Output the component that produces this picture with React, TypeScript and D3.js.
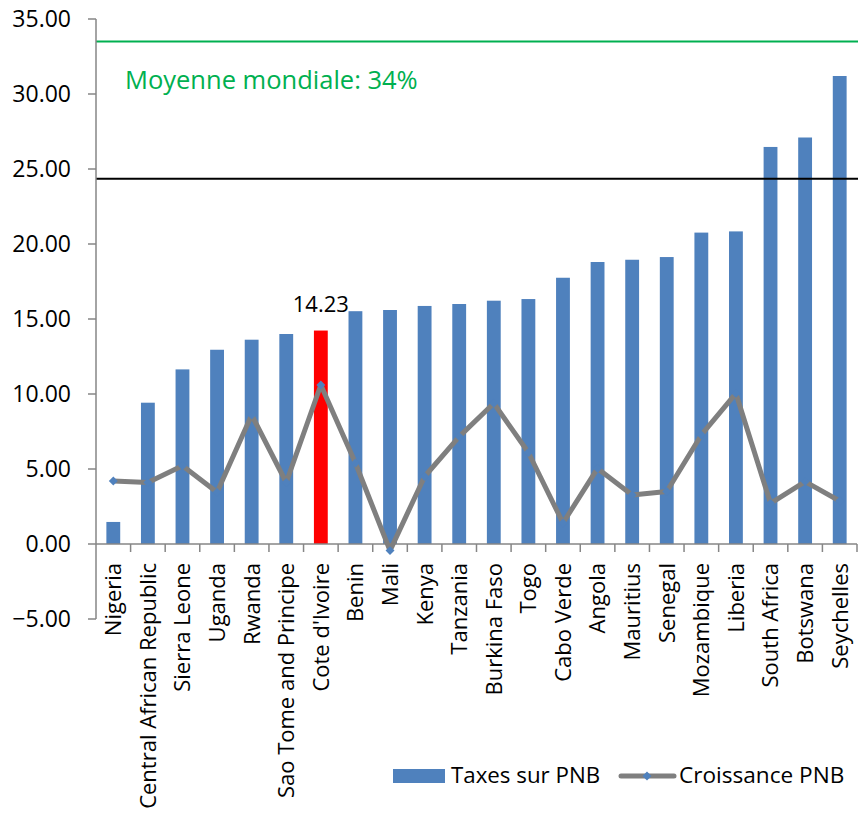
import React from "react";
import * as d3 from "d3";

// Countries ordered by tax revenue share
const countries = [
  "Nigeria",
  "Central African Republic",
  "Sierra Leone",
  "Uganda",
  "Rwanda",
  "Sao Tome and Principe",
  "Cote d'Ivoire",
  "Benin",
  "Mali",
  "Kenya",
  "Tanzania",
  "Burkina Faso",
  "Togo",
  "Cabo Verde",
  "Angola",
  "Mauritius",
  "Senegal",
  "Mozambique",
  "Liberia",
  "South Africa",
  "Botswana",
  "Seychelles",
];

// Taxes sur PNB (%)
const taxes = [
  1.47, 9.42, 11.64, 12.95, 13.62, 14.0, 14.23, 15.52, 15.6, 15.87, 16.0,
  16.22, 16.33, 17.75, 18.8, 18.95, 19.13, 20.76, 20.84, 26.47, 27.1, 31.2,
];

// Croissance PNB (%)
const growth = [
  4.2, 4.1, 5.22, 3.45, 8.6, 4.1, 10.6, 5.4, -0.44, 4.5, 7.16, 9.38, 6.1, 1.4,
  5.04, 3.27, 3.5, 7.27, 10.04, 2.71, 4.16, 2.87,
];

const highlighted = "Cote d'Ivoire";
const worldAverage = 33.5;
const regionalAverage = 24.35;

const yDomain: [number, number] = [-5, 35];

const FONT = "'Open Sans', sans-serif";
const BLUE = "#4f81bd";
const RED = "#ff0000";
const GREY_LINE = "#7f7f7f";
const AXIS = "#868686";
const GREEN = "#00b050";

export default function App() {
  const width = 858;
  const height = 824;
  const left = 96;
  const right = 857;
  const top = 19;
  const bottom = 619;

  const y = d3.scaleLinear().domain(yDomain).range([bottom, top]);
  const xCat = d3.scaleBand<string>().domain(countries).range([left, right]).padding(0);
  const xBar = d3
    .scaleBand<string>()
    .domain(countries)
    .range([left, right])
    .paddingInner(0.6)
    .paddingOuter(0.3);

  const cx = (c: string) => (xCat(c) as number) + xCat.bandwidth() / 2;
  const y0 = y(0);
  const yTicks = y.ticks(8);
  const fmt = d3.format(".2f");

  const linePath = d3
    .line<number>()
    .x((_, i) => cx(countries[i]))
    .y((v) => y(v))(growth) as string;

  const diamond = d3.symbol(d3.symbolSquare, 40)() as string;

  const hiIdx = countries.indexOf(highlighted);

  return (
    <svg
      width={width}
      height={height}
      style={{ position: "absolute", left: 0, top: 0, background: "#fff" }}
      fontFamily={FONT}
    >
      {/* bars */}
      {countries.map((c, i) => {
        const v = taxes[i];
        return (
          <rect
            key={c}
            x={xBar(c)}
            width={xBar.bandwidth()}
            y={Math.min(y(v), y0)}
            height={Math.abs(y0 - y(v))}
            fill={c === highlighted ? RED : BLUE}
          />
        );
      })}

      {/* value label for highlighted country */}
      <text
        x={cx(highlighted)}
        y={y(taxes[hiIdx]) - 19}
        textAnchor="middle"
        fontSize={22}
        fill="#000"
      >
        {fmt(taxes[hiIdx])}
      </text>

      {/* reference lines */}
      <line x1={left} x2={width} y1={y(worldAverage)} y2={y(worldAverage)} stroke={GREEN} strokeWidth={2} />
      <text x={125} y={y(worldAverage) + 47} fontSize={25.5} fill={GREEN}>
        {`Moyenne mondiale: ${Math.round(worldAverage)}%`}
      </text>
      <line x1={left} x2={width} y1={y(regionalAverage)} y2={y(regionalAverage)} stroke="#000" strokeWidth={2} />

      {/* y axis */}
      <line x1={left} x2={left} y1={top} y2={bottom} stroke={AXIS} strokeWidth={1.5} />
      {yTicks.map((t) => (
        <g key={t}>
          <line x1={left - 8} x2={left} y1={y(t)} y2={y(t)} stroke={AXIS} strokeWidth={1.5} />
          <text x={71} y={y(t)} dy="0.36em" textAnchor="end" fontSize={23} fill="#000">
            {fmt(t)}
          </text>
        </g>
      ))}

      {/* x axis */}
      <line x1={left} x2={right} y1={y0} y2={y0} stroke={AXIS} strokeWidth={1.5} />
      {countries.map((c) => {
        const bx = (xCat(c) as number) + xCat.bandwidth();
        return <line key={c} x1={bx} x2={bx} y1={y0} y2={y0 + 8} stroke={AXIS} strokeWidth={1.5} />;
      })}
      {countries.map((c) => (
        <text
          key={c}
          transform={`translate(${cx(c)},${y0 + 19}) rotate(-90)`}
          dy="0.36em"
          textAnchor="end"
          fontSize={22}
          fill="#000"
        >
          {c}
        </text>
      ))}

      {/* growth line with diamond markers on top */}
      <path d={linePath} fill="none" stroke={GREY_LINE} strokeWidth={5} strokeLinejoin="round" />
      {growth.map((v, i) => (
        <path
          key={countries[i]}
          d={diamond}
          transform={`translate(${cx(countries[i])},${y(v)}) rotate(45)`}
          fill={BLUE}
        />
      ))}

      {/* legend */}
      <rect x={393} y={769} width={52} height={14} fill={BLUE} />
      <text x={451} y={783} fontSize={22.3} fill="#000">
        Taxes sur PNB
      </text>
      <line x1={621} x2={674} y1={776} y2={776} stroke={GREY_LINE} strokeWidth={5} strokeLinecap="round" />
      <path d={diamond} transform="translate(647,776) rotate(45)" fill={BLUE} />
      <text x={679} y={783} fontSize={22.6} fill="#000">
        Croissance PNB
      </text>
    </svg>
  );
}
